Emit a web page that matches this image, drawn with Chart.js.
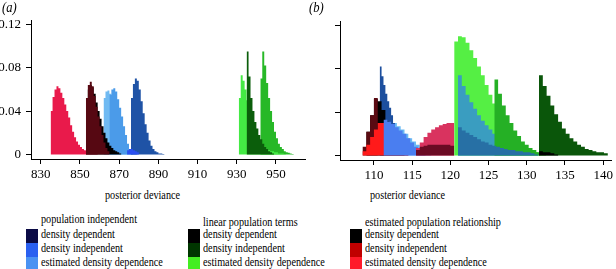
<!DOCTYPE html>
<html><head><meta charset="utf-8">
<script src="https://cdn.jsdelivr.net/npm/chart.js@4/dist/chart.umd.min.js"></script>
<style>
html,body{margin:0;padding:0;background:#fff;}
body{width:616px;height:269px;position:relative;overflow:hidden;font-family:"Liberation Serif","DejaVu Serif","Times New Roman",serif;color:#000;}
canvas{position:absolute;}
.t{position:absolute;white-space:nowrap;font-size:12px;line-height:13px;transform:scaleX(0.85);transform-origin:0 0;}
.p{position:absolute;white-space:nowrap;font-size:14px;line-height:16px;font-style:italic;transform:scaleX(0.9);transform-origin:0 0;}
.sw{position:absolute;width:12px;height:14px;}
</style></head>
<body>
<canvas id="ca" width="310" height="185" style="left:0;top:0"></canvas>
<canvas id="cb" width="306" height="185" style="left:310px;top:1px"></canvas>
<div class="p" style="left:2px;top:0px">(a)</div>
<div class="p" style="left:309px;top:0px">(b)</div>
<div class="t" style="left:105px;top:188.5px">posterior deviance</div>
<div class="t" style="left:370px;top:188.5px">posterior deviance</div>
<div id="legend"></div>
<script>
// ---- axis ticks ----
const xTicksA = [830, 850, 870, 890, 910, 930, 950];
const xTicksB = [110, 115, 120, 125, 130, 135, 140];
const yTicks = [0, 0.04, 0.08, 0.12];
const yTickLabels = ['0', '0.04', '0.08', '0.12'];

// ---- legend ----
const legendTitles = ['population independent', 'linear population terms', 'estimated population relationship'];
const legendLabels = ['density dependent', 'density independent', 'estimated density dependence'];
const legendColors = [['#0a0a45', '#2a60f0', '#4a92f2'], ['#000000', '#003600', '#44ee22'], ['#000000', '#c00000', '#ff1a2a']];

// ---- panel (a) histograms: bin start, bin width 1 ----
const a_lblue1_start = 862;
const a_lblue1 = [0.035, 0.052, 0.058, 0.059, 0.056, 0.050, 0.042, 0.034, 0.026, 0.019, 0.013, 0.009, 0.006, 0.004, 0.002, 0.001];
const a_lblue2_start = 865;
const a_lblue2 = [0.036, 0.055, 0.060, 0.061, 0.058, 0.051, 0.043, 0.035, 0.026, 0.018, 0.010, 0.005, 0.003, 0.002, 0.001];
const a_red_start = 835;
const a_red = [0.022, 0.040, 0.053, 0.060, 0.063, 0.061, 0.057, 0.052, 0.046, 0.040, 0.034, 0.027, 0.021, 0.016, 0.012, 0.009, 0.007, 0.005, 0.004, 0.003, 0.002, 0.002, 0.001, 0.001, 0.001];
const a_black_start = 853;
const a_black = [0.028, 0.048, 0.060, 0.064, 0.062, 0.056, 0.048, 0.040, 0.033, 0.026, 0.020, 0.015, 0.011, 0.008, 0.006, 0.004, 0.003, 0.002, 0.001];
const a_maroon_start = 853;
const a_maroon = [0.030, 0.052, 0.064, 0.067, 0.063, 0.054, 0.044, 0.035, 0.026, 0.018, 0.011, 0.006, 0.003];
const a_dblue_start = 876;
const a_dblue = [0.030, 0.052, 0.065, 0.070, 0.068, 0.060, 0.049, 0.038, 0.028, 0.020, 0.013, 0.008, 0.005, 0.003, 0.002, 0.001, 0.001, 0.0005];
const a_blue_start = 874;
const a_blue = [0.002, 0.004, 0.005, 0.005, 0.004, 0.003, 0.002];
const a_mgreen_start = 942;
const a_mgreen = [0.022, 0.070, 0.095, 0.082, 0.066, 0.052, 0.040, 0.030, 0.021, 0.015, 0.010, 0.007, 0.005, 0.003, 0.002, 0.0015, 0.001, 0.0005];
const a_lgreen_start = 931;
const a_lgreen = [0.022, 0.052, 0.073, 0.068, 0.060, 0.050, 0.040, 0.032, 0.025, 0.019, 0.015, 0.012, 0.009, 0.007, 0.006, 0.005, 0.004, 0.003, 0.003, 0.002, 0.002, 0.001, 0.001, 0.001, 0.0005];
const a_dgreen_start = 935;
const a_dgreen = [0.080, 0.095, 0.072, 0.052, 0.040, 0.030, 0.024, 0.018, 0.014, 0.010, 0.007, 0.005, 0.003, 0.002, 0.001];

// ---- panel (b) histograms ----
const b_lblue_start = 110.5;
const b_lblue = [0.034, 0.035, 0.035, 0.034, 0.032, 0.030, 0.027, 0.024, 0.020, 0.016, 0.013, 0.010, 0.007, 0.004, 0.002];
const b_navy_start = 110.75; // bin width 0.25
const b_navy = [0.092, 0.082, 0.073, 0.065, 0.057, 0.050, 0.044, 0.037, 0.030, 0.024, 0.019, 0.015, 0.011, 0.008, 0.005, 0.003];
const b_black_start = 109;
const b_black = [0.008, 0.022, 0.037, 0.052, 0.050, 0.042, 0.031, 0.024, 0.016, 0.009, 0.004];
const b_maroon_start = 108.5;
const b_maroon = [0.002, 0.008, 0.022, 0.037, 0.053];
const b_red_start = 108.5;
const b_red = [0.001, 0.004, 0.010, 0.017, 0.024, 0.030, 0.030, 0.025, 0.018, 0.012, 0.007, 0.004, 0.002];
const b_blue_start = 111.25;
const b_blue = [0.034, 0.033, 0.031, 0.029, 0.026, 0.023, 0.020, 0.016, 0.012, 0.008, 0.005, 0.002];
const b_crimson_start = 115.5;
const b_crimson = [0.003, 0.007, 0.012, 0.017, 0.021, 0.024, 0.026, 0.028, 0.029, 0.030, 0.030];
const b_dmaroon_start = 115.5;
const b_dmaroon = [0.002, 0.005, 0.008, 0.009, 0.010, 0.010, 0.010, 0.010, 0.010, 0.010, 0.009];
const b_lgreen_start = 120.5;
const b_lgreen = [0.008, 0.105, 0.110, 0.109, 0.104, 0.097, 0.090, 0.082, 0.074, 0.065, 0.056, 0.048, 0.041, 0.034, 0.028, 0.023, 0.018, 0.014, 0.011, 0.008, 0.006, 0.004, 0.003, 0.002, 0.001];
const b_teal_start = 121;
const b_teal = [0.089, 0.074, 0.064, 0.056, 0.049, 0.043, 0.037, 0.032, 0.028, 0.024, 0.020, 0.017, 0.014, 0.012, 0.010, 0.008, 0.007, 0.006, 0.005, 0.004, 0.003, 0.002];
const b_mgreen_start = 125.75;
const b_mgreen = [0.088, 0.070, 0.057, 0.046, 0.037, 0.030, 0.023, 0.018, 0.013, 0.010, 0.007, 0.005, 0.003];
const b_dteal_start = 121;
const b_dteal = [0.029, 0.026, 0.023, 0.021, 0.019, 0.017, 0.015, 0.013, 0.012, 0.010, 0.009, 0.008, 0.007, 0.006, 0.005, 0.005, 0.004, 0.004, 0.003, 0.003, 0.002, 0.001];
const b_dgreen_start = 131.6;
const b_dgreen = [0.084, 0.074, 0.064, 0.055, 0.046, 0.038, 0.031, 0.025, 0.020, 0.016, 0.013, 0.010, 0.008, 0.006, 0.005, 0.004, 0.003, 0.003, 0.002];
const b_blackband_start = 131.6;
const b_blackband = [0.004, 0.004, 0.003, 0.003, 0.002, 0.001];

// ---- helpers ----
function hist(start, w, vals) {
  const pts = vals.map((v, i) => ({ x: start + i * w, y: v }));
  pts.push({ x: start + vals.length * w, y: 0 });
  return pts;
}
function ds(start, w, vals, color) {
  return { data: hist(start, w, vals), backgroundColor: color, borderColor: 'rgba(0,0,0,0)', borderWidth: 0,
           fill: 'origin', stepped: 'after', pointRadius: 0, pointHoverRadius: 0 };
}
// bottom-to-top order
const dsA = [
  ds(a_lblue1_start, 1, a_lblue1, '#70baf2'),
  ds(a_lblue2_start, 1, a_lblue2, '#4b9be9'),
  ds(a_red_start, 1, a_red, '#e91a4b'),
  ds(a_black_start, 1, a_black, '#000000'),
  ds(a_maroon_start, 1, a_maroon, '#560812'),
  ds(a_dblue_start, 1, a_dblue, '#1f53a6'),
  ds(a_blue_start, 1, a_blue, '#2a4ff0'),
  ds(a_mgreen_start, 1, a_mgreen, '#27b827'),
  ds(a_lgreen_start, 1, a_lgreen, '#44ea44'),
  ds(a_dgreen_start, 1, a_dgreen, '#0b5e0b')
].reverse();
const dsB = [
  ds(b_lblue_start, 0.5, b_lblue, '#6ab9f3'),
  ds(b_navy_start, 0.25, b_navy, '#1d4f9e'),
  ds(b_black_start, 0.5, b_black, '#000000'),
  ds(b_maroon_start, 0.5, b_maroon, '#5a0a12'),
  ds(b_red_start, 0.5, b_red, '#ff1a1a'),
  ds(b_blue_start, 0.5, b_blue, '#4a7ef0'),
  ds(b_crimson_start, 0.5, b_crimson, '#d9335f'),
  ds(b_dmaroon_start, 0.5, b_dmaroon, '#6b0b24'),
  ds(b_lgreen_start, 0.5, b_lgreen, '#55ef44'),
  ds(b_teal_start, 0.5, b_teal, '#3a9dc0'),
  ds(b_mgreen_start, 0.5, b_mgreen, '#25b025'),
  ds(b_dteal_start, 0.5, b_dteal, '#2770a5'),
  ds(b_dgreen_start, 0.5, b_dgreen, '#0a560a'),
  ds(b_blackband_start, 0.5, b_blackband, '#000000')
].reverse();

const axisGrid = { display: true, drawOnChartArea: false, drawTicks: true, tickLength: 5, color: '#000', lineWidth: 1 };
const axisBorder = { display: true, color: '#000', width: 1 };
const tickFont = { family: '"Liberation Serif", "DejaVu Serif", serif', size: 13 };

function makeChart(id, datasets, xmin, xmax, xTicks, showY, yWidth, padRight) {
  return new Chart(document.getElementById(id), {
    type: 'line',
    data: { datasets },
    options: {
      responsive: false, animation: false, devicePixelRatio: 1,
      layout: { padding: { top: 20, right: padRight, left: 0, bottom: 0 } },
      plugins: { legend: { display: false }, tooltip: { enabled: false } },
      scales: {
        x: {
          type: 'linear', min: xmin, max: xmax,
          afterBuildTicks: s => { s.ticks = xTicks.map(v => ({ value: v })); },
          afterFit: s => { s.height = 26; },
          grid: axisGrid, border: axisBorder,
          ticks: { color: '#000', font: tickFont, padding: 3, autoSkip: false, maxRotation: 0, minRotation: 0,
                   callback: v => String(v) }
        },
        y: {
          type: 'linear', min: -0.00415, max: 0.124,
          afterBuildTicks: s => { s.ticks = yTicks.map(v => ({ value: v })); },
          afterFit: s => { s.width = yWidth; },
          grid: axisGrid, border: axisBorder,
          ticks: { color: '#000', font: tickFont, padding: 5, autoSkip: false,
                   callback: (v, i) => showY ? yTickLabels[i] : '' }
        }
      }
    }
  });
}
makeChart('ca', dsA, 825, 964.8, xTicksA, true, 31, 5);
makeChart('cb', dsB, 105.56, 141.04, xTicksB, false, 30, 2);

// ---- legend (HTML) ----
const colX = [26, 188, 350];
const titleTop = [213, 215.5, 215.5];
const rowTop = [229, 243, 257];
const leg = document.getElementById('legend');
legendTitles.forEach((title, c) => {
  const t = document.createElement('div');
  t.className = 't'; t.textContent = title;
  t.style.left = (colX[c] + 14.5) + 'px'; t.style.top = titleTop[c] + 'px';
  leg.appendChild(t);
  legendLabels.forEach((lab, r) => {
    const sw = document.createElement('div');
    sw.className = 'sw'; sw.style.left = colX[c] + 'px'; sw.style.top = rowTop[r] + 'px';
    sw.style.background = legendColors[c][r];
    leg.appendChild(sw);
    const l = document.createElement('div');
    l.className = 't'; l.textContent = lab;
    l.style.left = (colX[c] + 14.5) + 'px'; l.style.top = (rowTop[r] - 1) + 'px';
    leg.appendChild(l);
  });
});
</script>
</body></html>
